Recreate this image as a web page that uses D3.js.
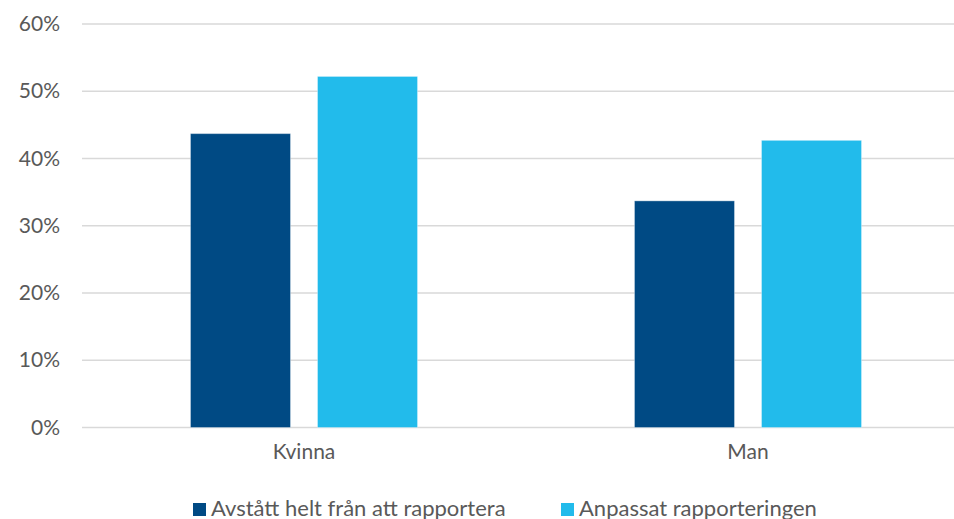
<!DOCTYPE html>
<html>
<head>
<meta charset="utf-8">
<script src="https://cdn.jsdelivr.net/npm/d3@7"></script>
<style>
  html, body { margin: 0; padding: 0; background: #fff; }
  svg { display: block; }
  text { font-family: Lato, "Open Sans", sans-serif; }
</style>
</head>
<body>
<svg id="chart" width="954" height="519"></svg>
<script>
const categories = ["Kvinna", "Man"];
const seriesNames = ["Avstått helt från att rapportera", "Anpassat rapporteringen"];
const avstatt = [0.437, 0.337];
const anpassat = [0.522, 0.427];
const yTicks = [0, 0.1, 0.2, 0.3, 0.4, 0.5, 0.6];
const colors = ["#004A84", "#22BBEB"];

const seriesValues = [avstatt, anpassat];
const svg = d3.select("#chart");
const W = 954, H = 519;
const margin = { left: 82, right: -16, top: 24, bottom: 91.5 };

const x = d3.scaleBand().domain(categories).range([margin.left, W - margin.right]).paddingInner(0).paddingOuter(0);
const xs = d3.scaleBand().domain(seriesNames).range([0, x.bandwidth()]).paddingInner(0.2126).paddingOuter(0.854);
const y = d3.scaleLinear().domain([0, 0.6]).range([H - margin.bottom, margin.top]);

// gridlines
svg.append("g").selectAll("line").data(yTicks).join("line")
  .attr("x1", margin.left).attr("x2", W)
  .attr("y1", d => y(d)).attr("y2", d => y(d))
  .attr("stroke", "#D9D9D9").attr("stroke-width", 1.5);

// y axis labels
const yAxis = d3.axisLeft(y).tickValues(yTicks).tickFormat(d3.format(".0%")).tickSize(0).tickPadding(22);
const yg = svg.append("g").attr("transform", `translate(${margin.left},0)`).call(yAxis);
yg.attr("font-family", null).attr("font-size", null);
yg.select(".domain").remove();
yg.selectAll("text").attr("fill", "#595959").style("font-size", "21px");

// bars
const groups = svg.append("g").selectAll("g").data(categories).join("g")
  .attr("transform", d => `translate(${x(d)},0)`);
groups.selectAll("rect").data((c, i) => seriesNames.map((s, j) => ({ s, j, v: seriesValues[j][i] })))
  .join("rect")
  .attr("x", d => xs(d.s))
  .attr("width", xs.bandwidth())
  .attr("y", d => y(d.v))
  .attr("height", d => y(0) - y(d.v))
  .attr("fill", d => colors[d.j])
  .attr("stroke", "rgba(255,255,255,0.35)").attr("stroke-width", 1);

// x axis labels
const xAxis = d3.axisBottom(x).tickSize(0).tickPadding(17);
const xg = svg.append("g").attr("transform", `translate(0,${y(0)})`).call(xAxis);
xg.attr("font-family", null).attr("font-size", null);
xg.select(".domain").remove();
xg.selectAll("text").attr("fill", "#595959").style("font-size", "21px");

// legend
const legendX = [193, 561];
const lg = svg.append("g").selectAll("g").data(seriesNames).join("g")
  .attr("transform", (d, i) => `translate(${legendX[i]},503)`);
lg.append("rect").attr("width", 13).attr("height", 13).attr("fill", (d, i) => colors[i]);
lg.append("text").attr("x", 18).attr("y", 12.5).attr("fill", "#595959").style("font-size", "22px").text(d => d);
</script>
</body>
</html>
